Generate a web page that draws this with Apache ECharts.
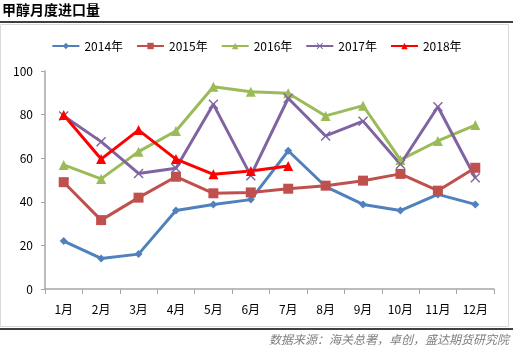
<!DOCTYPE html>
<html>
<head>
<meta charset="utf-8">
<script src="https://cdn.jsdelivr.net/npm/echarts@6/dist/echarts.min.js"></script>
<style>
  html, body { margin: 0; padding: 0; background: #fff; }
  #chart { width: 513px; height: 353px; }
</style>
</head>
<body>
<div id="chart"></div>
<script>
// 数据
var months = ['1月', '2月', '3月', '4月', '5月', '6月', '7月', '8月', '9月', '10月', '11月', '12月'];
var y2014 = [22, 14, 16, 36, 38.8, 41, 63.4, 47, 38.8, 36, 43.4, 38.8];
var y2015 = [49, 31.6, 41.9, 51.5, 43.9, 44.3, 46, 47.4, 49.7, 52.8, 45.1, 55.6];
var y2016 = [56.9, 50.5, 63, 72.5, 92.8, 90.5, 89.8, 79.4, 84.1, 59.2, 67.9, 75.2];
var y2017 = [79.4, 67.6, 53, 55.4, 84.7, 52, 87.5, 70.2, 77, 57.2, 83.6, 51];
var y2018 = [79.8, 59.6, 72.9, 59.6, 52.6, 54.1, 56.4];

var font = '"Noto Sans CJK SC", sans-serif';
var xMark = 'path://M0,1L1,0L5,4L9,0L10,1L6,5L10,9L9,10L5,6L1,10L0,9L4,5Z';

function line(name, data, color, symbol, size) {
  return {
    name: name,
    type: 'line',
    data: data,
    symbol: symbol,
    symbolSize: size,
    lineStyle: { width: 3, color: color },
    itemStyle: { color: color },
    emphasis: { disabled: true }
  };
}

var chart = echarts.init(document.getElementById('chart'));
chart.setOption({
  animation: false,
  graphic: [
    { type: 'text', left: 2, top: 3, style: { text: '甲醇月度进口量', font: 'bold 14px ' + font, fill: '#000' } },
    { type: 'line', shape: { x1: 0, y1: 22, x2: 513, y2: 22 }, style: { stroke: '#000', lineWidth: 1.5 } },
    { type: 'rect', shape: { x: 0.5, y: 24.5, width: 508, height: 302 }, style: { fill: 'none', stroke: '#d9d9d9', lineWidth: 1 } },
    { type: 'line', shape: { x1: 0, y1: 329, x2: 513, y2: 329 }, style: { stroke: '#000', lineWidth: 1.5 } },
    { type: 'text', right: 4, top: 333, style: { text: '数据来源：海关总署，卓创，盛达期货研究院', font: 'italic 12px ' + font, fill: '#7f7f7f' } }
  ],
  legend: {
    top: 35,
    left: 'center',
    itemWidth: 27,
    itemHeight: 8,
    itemGap: 13,
    textStyle: { fontFamily: font, fontSize: 12, color: '#000' },
    data: ['2014年', '2015年', '2016年', '2017年', '2018年']
  },
  grid: { left: 45, right: 19, top: 71, bottom: 64 },
  xAxis: {
    type: 'category',
    data: months,
    boundaryGap: true,
    axisLine: { lineStyle: { color: '#a6a6a6', width: 1.5 } },
    axisTick: { show: true, length: 5, lineStyle: { color: '#a6a6a6' } },
    axisLabel: { interval: 0, margin: 14, color: '#000', fontFamily: font, fontSize: 12 }
  },
  yAxis: {
    type: 'value',
    min: 0,
    max: 100,
    interval: 20,
    splitLine: { show: false },
    axisLine: { show: true, lineStyle: { color: '#a6a6a6', width: 1.5 } },
    axisTick: { show: true, length: 4, lineStyle: { color: '#a6a6a6' } },
    axisLabel: { margin: 12, color: '#000', fontFamily: font, fontSize: 12 }
  },
  series: [
    line('2014年', y2014, '#4f81bd', 'diamond', 8),
    line('2015年', y2015, '#c0504d', 'rect', 10),
    line('2016年', y2016, '#9bbb59', 'triangle', 10),
    line('2017年', y2017, '#8064a2', xMark, 10),
    line('2018年', y2018, '#ff0000', 'triangle', 10)
  ]
});
</script>
</body>
</html>
